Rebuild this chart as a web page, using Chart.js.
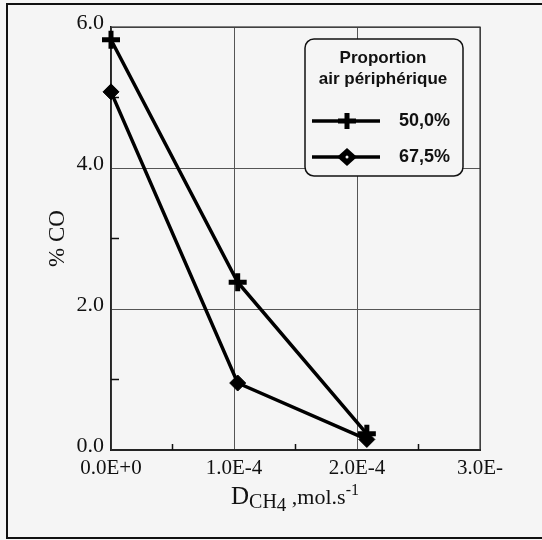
<!DOCTYPE html>
<html lang="fr">
<head>
<meta charset="UTF-8">
<title>% CO en fonction du débit de CH4</title>
<script src="https://cdn.jsdelivr.net/npm/chart.js"></script>
<style>
  html, body { margin: 0; padding: 0; background: #f5f5f5; }
  #cadre { width: 542px; height: 540px; }
</style>
</head>
<body>
<div id="cadre"><canvas id="graficoCO" width="542" height="540"></canvas></div>
<script>
// valeurs
const debitCH4 = [0, 1.03e-4, 2.08e-4];
const co500 = [5.82, 2.38, 0.23];
const co675 = [5.08, 0.95, 0.15];
const seriesLabels = ['50,0%', '67,5%'];
const legendTitle = ['Proportion', 'air périphérique'];
const xTickValues = [0, 1e-4, 2e-4, 3e-4];
const xTickLabels = ['0.0E+0', '1.0E-4', '2.0E-4', '3.0E-'];
const yTickValues = [0, 2, 4, 6];
const yTickLabels = ['0.0', '2.0', '4.0', '6.0'];
const xMinorTicks = [0.5e-4, 1.5e-4, 2.5e-4];
const yMinorTicks = [1, 3, 5];

const serif = '"Liberation Serif", "Times New Roman", serif';
const sans = '"Liberation Sans", Arial, sans-serif';

// fond, cadre, bordure du graphe et petites graduations
const decor = {
    id: 'decor',
    beforeDraw(chart) {
        const ctx = chart.ctx;
        ctx.save();
        ctx.fillStyle = '#f5f5f5';
        ctx.fillRect(0, 0, chart.width, chart.height);
        ctx.strokeStyle = '#111';
        ctx.lineWidth = 2;
        ctx.strokeRect(7, 4, 600, 534);
        ctx.restore();
    },
    beforeDatasetsDraw(chart) {
        const ctx = chart.ctx;
        const a = chart.chartArea;
        const x = chart.scales.x, y = chart.scales.y;
        ctx.save();
        ctx.strokeStyle = '#333';
        ctx.lineWidth = 1.2;
        ctx.strokeRect(a.left, a.top, a.right - a.left, a.bottom - a.top);
        ctx.strokeStyle = '#111';
        ctx.lineWidth = 1.5;
        ctx.beginPath();
        xMinorTicks.forEach(v => {
            const px = x.getPixelForValue(v);
            ctx.moveTo(px, a.bottom);
            ctx.lineTo(px, a.bottom - 6);
        });
        yMinorTicks.forEach(v => {
            const py = y.getPixelForValue(v);
            ctx.moveTo(a.left, py);
            ctx.lineTo(a.left + 8, py);
        });
        ctx.stroke();
        ctx.restore();
    }
};

// titre de l'axe x avec indices et exposant
const titreX = {
    id: 'titreX',
    afterDraw(chart) {
        const ctx = chart.ctx;
        const parts = [
            { t: 'D', size: 25, dy: 0 },
            { t: 'CH', size: 20, dy: 4 },
            { t: '4', size: 19, dy: 7 },
            { t: ' ,mol.s', size: 22, dy: 0 },
            { t: '-1', size: 16, dy: -9 }
        ];
        ctx.save();
        ctx.fillStyle = '#111';
        ctx.textBaseline = 'alphabetic';
        let total = 0;
        parts.forEach(p => {
            ctx.font = p.size + 'px ' + serif;
            p.w = ctx.measureText(p.t).width;
            total += p.w;
        });
        let cx = 295 - total / 2;
        parts.forEach(p => {
            ctx.font = p.size + 'px ' + serif;
            ctx.fillText(p.t, cx, 504 + p.dy);
            cx += p.w;
        });
        ctx.restore();
    }
};

// légende encadrée dans le coin haut droit
const legende = {
    id: 'legende',
    afterDraw(chart) {
        const ctx = chart.ctx;
        const bx = 305, by = 39, bw = 158, bh = 137;
        ctx.save();
        ctx.beginPath();
        ctx.roundRect(bx, by, bw, bh, 9);
        ctx.fillStyle = '#f5f5f5';
        ctx.fill();
        ctx.strokeStyle = '#111';
        ctx.lineWidth = 1.5;
        ctx.stroke();

        ctx.fillStyle = '#111';
        ctx.font = 'bold 17px ' + sans;
        ctx.textAlign = 'center';
        ctx.textBaseline = 'middle';
        ctx.fillText(legendTitle[0], bx + 78, 58);
        ctx.fillText(legendTitle[1], bx + 78, 79);

        chart.data.datasets.forEach((ds, i) => {
            const ly = 121 + i * 36;
            ctx.strokeStyle = '#000';
            ctx.lineWidth = 3.5;
            ctx.beginPath();
            ctx.moveTo(312, ly);
            ctx.lineTo(380, ly);
            ctx.stroke();
            const mx = 347;
            if (ds.pointStyle === 'cross') {
                ctx.lineWidth = 5;
                ctx.beginPath();
                ctx.moveTo(mx - 9, ly);
                ctx.lineTo(mx + 9, ly);
                ctx.moveTo(mx, ly - 8);
                ctx.lineTo(mx, ly + 8);
                ctx.stroke();
            } else {
                ctx.fillStyle = '#000';
                ctx.beginPath();
                ctx.moveTo(mx - 10, ly);
                ctx.lineTo(mx, ly - 9);
                ctx.lineTo(mx + 10, ly);
                ctx.lineTo(mx, ly + 9);
                ctx.closePath();
                ctx.fill();
                ctx.fillStyle = '#f5f5f5';
                ctx.beginPath();
                ctx.arc(mx, ly, 1.5, 0, Math.PI * 2);
                ctx.fill();
            }
            ctx.fillStyle = '#111';
            ctx.font = 'bold 18px ' + sans;
            ctx.textAlign = 'left';
            ctx.fillText(ds.label, 399, ly);
        });
        ctx.restore();
    }
};

const ctx = document.getElementById('graficoCO').getContext('2d');
new Chart(ctx, {
    type: 'line',
    data: {
        datasets: [{
            label: seriesLabels[0],
            data: debitCH4.map((x, i) => ({ x: x, y: co500[i] })),
            borderColor: '#000',
            borderWidth: 3.5,
            pointStyle: 'cross',
            pointRadius: 9,
            pointBorderWidth: 5,
            pointBorderColor: '#000',
            pointBackgroundColor: '#000',
            tension: 0,
            clip: false
        }, {
            label: seriesLabels[1],
            data: debitCH4.map((x, i) => ({ x: x, y: co675[i] })),
            borderColor: '#000',
            borderWidth: 3.5,
            pointStyle: 'rectRot',
            pointRadius: 8,
            pointBorderWidth: 1,
            pointBorderColor: '#000',
            pointBackgroundColor: '#000',
            tension: 0,
            clip: false
        }]
    },
    options: {
        responsive: false,
        animation: false,
        layout: { padding: { top: 27, right: 62, left: 0, bottom: 0 } },
        plugins: {
            legend: { display: false },
            tooltip: { enabled: false }
        },
        scales: {
            x: {
                type: 'linear',
                min: 0,
                max: 3e-4,
                afterBuildTicks: s => { s.ticks = xTickValues.map(v => ({ value: v })); },
                afterFit: s => { s.height = 90; },
                grid: { color: '#555', lineWidth: 1, drawTicks: false },
                border: { color: '#111', width: 2 },
                ticks: {
                    padding: 6,
                    color: '#111',
                    maxRotation: 0,
                    autoSkip: false,
                    font: { family: serif, size: 21 },
                    callback: (v, i) => xTickLabels[i]
                }
            },
            y: {
                min: 0,
                max: 6,
                afterBuildTicks: s => { s.ticks = yTickValues.map(v => ({ value: v })); },
                afterFit: s => { s.width = 111; },
                grid: { color: '#555', lineWidth: 1, drawTicks: false },
                border: { color: '#111', width: 1.5 },
                ticks: {
                    padding: 7,
                    labelOffset: -4,
                    color: '#111',
                    font: { family: serif, size: 22 },
                    callback: (v, i) => yTickLabels[i]
                },
                title: {
                    display: true,
                    text: '% CO',
                    color: '#111',
                    font: { family: serif, size: 23 },
                    padding: { top: 44, bottom: 0 }
                }
            }
        }
    },
    plugins: [decor, titreX, legende]
});
</script>
</body>
</html>
